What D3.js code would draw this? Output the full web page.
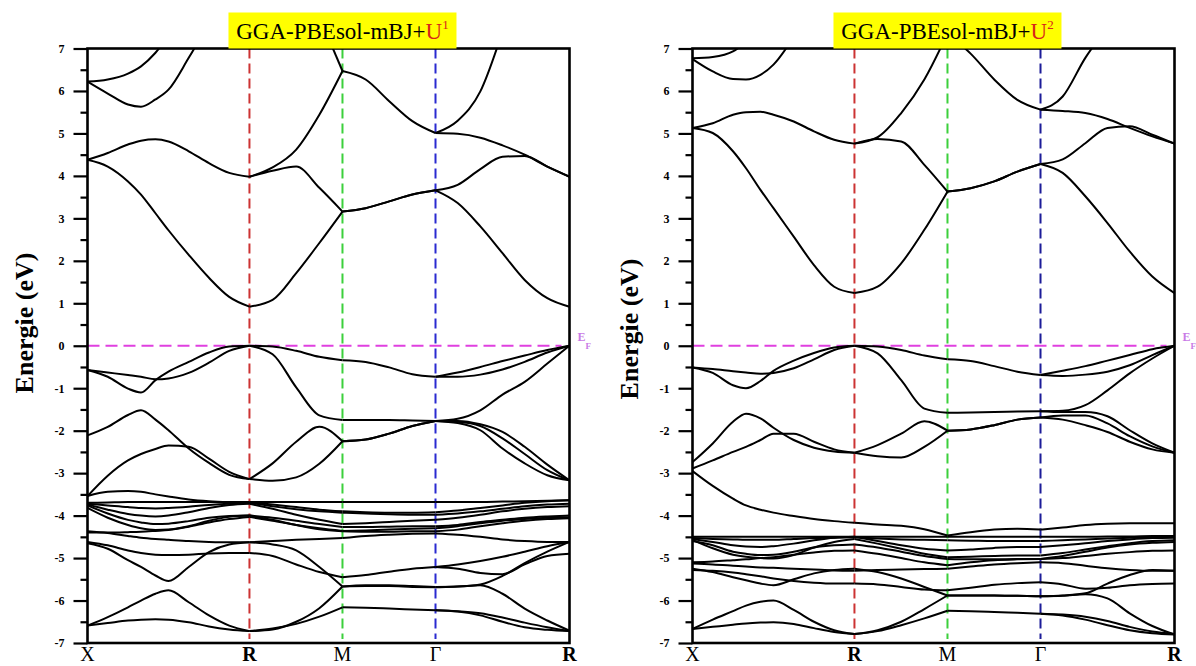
<!DOCTYPE html>
<html>
<head>
<meta charset="utf-8">
<script src="https://cdn.jsdelivr.net/npm/d3@7"></script>
<style>
  body { margin: 0; background: #fff; }
  svg { display: block; }
</style>
</head>
<body>
<svg id="chart" width="1196" height="666"></svg>
<script>
// ---- k-path (fraction of the total path length) ----
const kTicks  = [0, 0.336, 0.529, 0.722, 1];
const kLabels = ["X", "R", "M", "Γ", "R"];
// sampling points along X-R (10), R-M (4), M-Γ (4), Γ-R (6)
const kGrid = [0, 0.042, 0.084, 0.111, 0.141, 0.168, 0.210, 0.252, 0.294, 0.336,
               0.384, 0.433, 0.481, 0.529,
               0.577, 0.626, 0.674, 0.722,
               0.768, 0.815, 0.861, 0.907, 0.954, 1];
const energyTicks = [-7, -6, -5, -4, -3, -2, -1, 0, 1, 2, 3, 4, 5, 6, 7];
const energyMinor = [-6.5, -5.5, -4.5, -3.5, -2.5, -1.5, -0.5, 0.5, 1.5, 2.5, 3.5, 4.5, 5.5, 6.5];
const N = null;

// ---- GGA-PBEsol-mBJ+U1 ----
const condU1 = [
  [4.38, 4.22, 3.87, 3.56, 3.12, 2.72, 2.14, 1.60, 1.15, 0.92, 1.08, 1.71, 2.42, 3.16, 3.24, 3.40, 3.56, 3.66, 3.36, 2.81, 2.18, 1.55, 1.12, 0.92],
  [4.38, 4.54, 4.74, 4.83, 4.86, 4.81, 4.58, 4.30, 4.07, 3.98, 4.12, 4.22, 3.72, 3.16, 3.24, 3.40, 3.56, 3.66, 3.79, 4.16, 4.45, 4.47, 4.22, 3.98],
  [N, N, N, N, N, N, N, N, N, 3.98, 4.20, 4.62, 5.44, 6.47, 6.27, 5.76, 5.29, 5.01, 4.99, 4.90, 4.72, 4.50, 4.22, 3.98],
  [6.22, 5.94, 5.68, 5.63, 5.80, 6.03, 6.78, 7.60, N, N, N, N, N, N, N, N, N, N, N, N, N, N, N, N],
  [6.22, 6.27, 6.41, 6.58, 6.90, 7.30, N, N, N, N, N, N, N, N, N, N, N, N, N, N, N, N, N, N],
  [N, N, N, N, N, N, N, N, N, N, N, N, 7.75, 6.47, N, N, N, N, N, N, N, N, N, N],
  [N, N, N, N, N, N, N, N, N, N, N, N, N, N, N, N, N, 5.01, 5.30, 5.99, 7.40, N, N, N]
];
const valU1 = [
  [-0.57, -0.63, -0.69, -0.73, -0.79, -0.77, -0.64, -0.40, -0.12, 0.00, -0.02, -0.12, -0.26, -0.34, -0.38, -0.51, -0.67, -0.73, -0.63, -0.50, -0.36, -0.23, -0.10, 0.00],
  [-0.57, -0.73, -1.01, -1.10, -0.81, -0.61, -0.38, -0.16, -0.02, 0.00, -0.20, -0.98, -1.64, -1.75, -1.75, -1.75, -1.76, -1.77, -1.72, -1.52, -1.15, -0.85, -0.42, 0.00],
  [-2.11, -1.91, -1.63, -1.52, -1.74, -1.99, -2.42, -2.76, -3.04, -3.14, -2.77, -2.26, -1.91, -2.25, -2.21, -2.07, -1.89, -1.77, -1.77, -1.85, -2.03, -2.38, -2.80, -3.17],
  [-3.54, -3.06, -2.70, -2.55, -2.43, -2.35, -2.38, -2.66, -2.97, -3.14, -3.18, -3.10, -2.78, -2.25, -2.21, -2.07, -1.89, -1.77, -1.79, -1.89, -2.18, -2.55, -2.93, -3.17],
  [N, N, N, N, N, N, N, N, N, N, N, N, N, N, N, N, N, -0.73, -0.73, -0.68, -0.56, -0.38, -0.16, 0.00],
  [N, N, N, N, N, N, N, N, N, N, N, N, N, N, N, N, N, -1.77, -1.82, -1.99, -2.42, -2.77, -3.05, -3.17]
];
const coreU1 = [
  [-3.70, -3.69, -3.68, -3.68, -3.68, -3.68, -3.68, -3.68, -3.68, -3.68, -3.68, -3.68, -3.68, -3.68, -3.68, -3.68, -3.68, -3.68, -3.68, -3.68, -3.67, -3.66, -3.65, -3.64],
  [-3.54, -3.44, -3.42, -3.44, -3.50, -3.55, -3.62, -3.66, -3.68, -3.69, -3.74, -3.80, -3.86, -3.90, -3.92, -3.93, -3.93, -3.92, -3.88, -3.82, -3.76, -3.70, -3.66, -3.64],
  [-3.72, -3.76, -3.80, -3.82, -3.83, -3.82, -3.79, -3.75, -3.72, -3.70, -3.78, -3.85, -3.90, -3.93, -3.95, -3.97, -3.98, -3.98, -3.95, -3.90, -3.84, -3.78, -3.74, -3.72],
  [-3.74, -3.86, -3.96, -4.00, -4.02, -4.00, -3.92, -3.82, -3.75, -3.72, -3.84, -3.98, -4.10, -4.20, -4.18, -4.15, -4.12, -4.10, -4.05, -3.98, -3.90, -3.84, -3.80, -3.78],
  [-3.76, -3.95, -4.10, -4.16, -4.20, -4.19, -4.13, -4.05, -4.01, -4.00, -4.05, -4.12, -4.20, -4.27, -4.27, -4.26, -4.25, -4.25, -4.22, -4.15, -4.10, -4.05, -4.02, -4.00],
  [-3.82, -4.05, -4.22, -4.30, -4.34, -4.33, -4.25, -4.12, -4.03, -4.00, -4.10, -4.22, -4.32, -4.37, -4.38, -4.38, -4.37, -4.37, -4.33, -4.25, -4.18, -4.12, -4.08, -4.06],
  [-4.37, -4.41, -4.48, -4.52, -4.55, -4.57, -4.60, -4.62, -4.63, -4.63, -4.60, -4.57, -4.55, -4.53, -4.48, -4.45, -4.43, -4.42, -4.45, -4.50, -4.56, -4.60, -4.62, -4.62],
  [-4.40, -4.40, -4.39, -4.38, -4.36, -4.34, -4.26, -4.16, -4.08, -4.03, -4.12, -4.22, -4.30, -4.36, -4.35, -4.33, -4.31, -4.30, -4.25, -4.18, -4.12, -4.08, -4.05, -4.04],
  [-4.62, -4.70, -4.82, -4.88, -4.92, -4.93, -4.92, -4.89, -4.88, -4.88, -4.95, -5.15, -5.33, -5.45, -5.40, -5.32, -5.25, -5.21, -5.25, -5.35, -5.38, -5.15, -4.95, -4.90],
  [-4.65, -4.78, -5.05, -5.21, -5.41, -5.54, -5.21, -4.86, -4.68, -4.63, -4.68, -4.82, -5.21, -5.67, -5.66, -5.66, -5.68, -5.69, -5.67, -5.64, -5.84, -6.19, -6.47, -6.71],
  [N, N, N, N, N, N, N, N, N, N, N, N, N, N, N, N, N, -5.21, -5.15, -5.07, -4.97, -4.85, -4.72, -4.63]
];
const lowU1 = [
  [-6.59, -6.53, -6.47, -6.45, -6.44, -6.45, -6.51, -6.61, -6.68, -6.72, -6.66, -6.55, -6.38, -6.16, -6.17, -6.19, -6.21, -6.23, -6.25, -6.30, -6.40, -6.52, -6.63, -6.72],
  [-6.59, -6.39, -6.16, -6.00, -5.84, -5.76, -6.04, -6.35, -6.59, -6.72, -6.68, -6.50, -6.18, -5.67, -5.64, -5.64, -5.66, -5.68, -5.67, -5.62, -5.42, -5.12, -4.85, -4.62],
  [N, N, N, N, N, N, N, N, N, N, N, N, N, N, N, N, N, -6.23, -6.26, -6.35, -6.50, -6.63, -6.69, -6.72]
];

// ---- GGA-PBEsol-mBJ+U2 ----
const condU2 = [
  [5.13, 5.01, 4.58, 4.18, 3.67, 3.24, 2.57, 1.90, 1.39, 1.24, 1.39, 1.94, 2.73, 3.63, 3.71, 3.87, 4.10, 4.28, 4.07, 3.52, 2.89, 2.22, 1.63, 1.24],
  [5.13, 5.24, 5.44, 5.50, 5.51, 5.44, 5.28, 5.05, 4.85, 4.76, 4.87, 4.81, 4.26, 3.63, 3.71, 3.87, 4.10, 4.28, 4.39, 4.77, 5.13, 5.17, 4.97, 4.76],
  [N, N, N, N, N, N, N, N, N, 4.76, 4.91, 5.48, 6.27, 7.35, 6.88, 6.27, 5.79, 5.56, 5.53, 5.48, 5.34, 5.13, 4.93, 4.76],
  [6.75, 6.46, 6.28, 6.27, 6.38, 6.62, 7.27, N, N, N, N, N, N, N, N, N, N, N, N, N, N, N, N, N],
  [6.77, 6.80, 6.93, 7.15, N, N, N, N, N, N, N, N, N, N, N, N, N, N, N, N, N, N, N, N],
  [N, N, N, N, N, N, N, N, N, N, N, N, N, N, N, N, N, 5.56, 5.87, 6.78, 7.50, N, N, N]
];
const valU2 = [
  [-0.51, -0.55, -0.60, -0.63, -0.66, -0.64, -0.53, -0.32, -0.10, 0.00, -0.02, -0.10, -0.23, -0.32, -0.36, -0.48, -0.61, -0.69, -0.59, -0.48, -0.35, -0.22, -0.08, 0.00],
  [-0.51, -0.64, -0.93, -1.00, -0.83, -0.59, -0.35, -0.17, -0.04, 0.00, -0.18, -0.81, -1.48, -1.58, -1.57, -1.56, -1.55, -1.54, -1.53, -1.40, -1.05, -0.65, -0.30, 0.00],
  [-2.74, -2.30, -1.79, -1.60, -1.71, -1.93, -2.22, -2.40, -2.49, -2.52, -2.34, -2.07, -1.78, -2.00, -1.97, -1.87, -1.74, -1.69, -1.74, -1.87, -2.03, -2.26, -2.44, -2.52],
  [-2.89, -2.70, -2.50, -2.38, -2.22, -2.07, -2.07, -2.26, -2.44, -2.52, -2.60, -2.63, -2.38, -2.00, -1.97, -1.87, -1.74, -1.69, -1.64, -1.64, -1.83, -2.13, -2.37, -2.52],
  [N, N, N, N, N, N, N, N, N, N, N, N, N, N, N, N, N, -0.69, -0.71, -0.68, -0.61, -0.46, -0.22, 0.00],
  [N, N, N, N, N, N, N, N, N, N, N, N, N, N, N, N, N, -1.54, -1.56, -1.56, -1.66, -1.99, -2.30, -2.52],
  [-2.95, -3.30, -3.60, -3.76, -3.86, -3.93, -4.01, -4.08, -4.13, -4.17, -4.21, -4.24, -4.32, -4.47, -4.39, -4.33, -4.31, -4.33, -4.28, -4.22, -4.19, -4.18, -4.18, -4.18]
];
const coreU2 = [
  [-4.50, -4.50, -4.50, -4.50, -4.50, -4.50, -4.50, -4.50, -4.50, -4.50, -4.50, -4.50, -4.50, -4.50, -4.50, -4.50, -4.50, -4.50, -4.50, -4.50, -4.49, -4.49, -4.48, -4.48],
  [-4.53, -4.55, -4.56, -4.57, -4.57, -4.57, -4.55, -4.53, -4.52, -4.51, -4.54, -4.56, -4.57, -4.58, -4.59, -4.60, -4.60, -4.60, -4.58, -4.56, -4.54, -4.52, -4.51, -4.50],
  [-4.55, -4.62, -4.70, -4.73, -4.74, -4.72, -4.66, -4.58, -4.52, -4.50, -4.60, -4.70, -4.78, -4.82, -4.80, -4.76, -4.74, -4.74, -4.70, -4.65, -4.60, -4.56, -4.53, -4.52],
  [-4.57, -4.77, -4.92, -4.97, -5.00, -5.01, -4.93, -4.75, -4.62, -4.55, -4.66, -4.78, -4.90, -4.98, -4.97, -4.95, -4.94, -4.94, -4.88, -4.80, -4.72, -4.65, -4.60, -4.58],
  [-4.60, -4.70, -4.85, -4.90, -4.93, -4.92, -4.85, -4.75, -4.70, -4.68, -4.75, -4.85, -4.95, -5.02, -5.03, -5.03, -5.02, -5.02, -4.95, -4.85, -4.75, -4.68, -4.64, -4.62],
  [-5.10, -5.08, -5.05, -5.03, -5.00, -4.98, -4.92, -4.87, -4.83, -4.82, -4.90, -5.00, -5.10, -5.17, -5.10, -5.05, -5.03, -5.02, -5.00, -4.95, -4.90, -4.86, -4.83, -4.82],
  [-5.13, -5.15, -5.18, -5.20, -5.22, -5.23, -5.25, -5.27, -5.29, -5.30, -5.28, -5.27, -5.26, -5.25, -5.20, -5.15, -5.12, -5.10, -5.12, -5.18, -5.24, -5.28, -5.30, -5.30],
  [-5.25, -5.33, -5.45, -5.52, -5.60, -5.64, -5.50, -5.36, -5.28, -5.25, -5.33, -5.48, -5.68, -5.88, -5.88, -5.88, -5.89, -5.90, -5.89, -5.85, -5.95, -6.30, -6.60, -6.80],
  [-5.28, -5.30, -5.34, -5.38, -5.43, -5.48, -5.54, -5.58, -5.60, -5.60, -5.62, -5.68, -5.74, -5.76, -5.70, -5.63, -5.59, -5.57, -5.62, -5.72, -5.70, -5.64, -5.61, -5.60]
];
const lowU2 = [
  [-6.67, -6.62, -6.57, -6.54, -6.52, -6.51, -6.55, -6.65, -6.74, -6.79, -6.72, -6.58, -6.42, -6.24, -6.25, -6.27, -6.29, -6.31, -6.33, -6.38, -6.48, -6.62, -6.73, -6.79],
  [-6.67, -6.45, -6.25, -6.12, -6.03, -6.00, -6.22, -6.50, -6.70, -6.79, -6.70, -6.50, -6.20, -5.88, -5.88, -5.88, -5.89, -5.90, -5.88, -5.83, -5.60, -5.40, -5.28, -5.30],
  [N, N, N, N, N, N, N, N, N, N, N, N, N, N, N, N, N, -6.31, -6.35, -6.45, -6.58, -6.70, -6.77, -6.80]
];

// index ranges of the four path segments inside kGrid
const segments = [[0, 9], [9, 13], [13, 17], [17, 23]];

const svg = d3.select("#chart");
const serif = "'Liberation Serif', 'Times New Roman', Times, serif";

function drawPanel(cfg) {
  const x = d3.scaleLinear().domain([0, 1]).range([cfg.x0, cfg.x0 + 482]);
  const y = d3.scaleLinear().domain([-7, 7]).range([643, 48.5]);
  const g = svg.append("g");
  const clipId = "clip-" + cfg.id;

  g.append("clipPath").attr("id", clipId)
    .append("rect")
    .attr("x", x(0)).attr("y", y(7))
    .attr("width", x(1) - x(0)).attr("height", y(-7) - y(7));

  // high-symmetry guide lines
  const guideColors = [null, "#cc3333", "#3cd03c", cfg.blue, null];
  kTicks.forEach((k, i) => {
    if (!guideColors[i]) return;
    g.append("line")
      .attr("x1", x(k)).attr("x2", x(k))
      .attr("y1", y(7)).attr("y2", y(-7) - 4)
      .attr("stroke", guideColors[i]).attr("stroke-width", 2)
      .attr("stroke-dasharray", "10,5");
  });

  // Fermi level
  g.append("line")
    .attr("x1", x(0)).attr("x2", x(1) - 8)
    .attr("y1", y(0)).attr("y2", y(0))
    .attr("stroke", "#e040e0").attr("stroke-width", 2)
    .attr("stroke-dasharray", "12,6");

  // bands
  const line = d3.line()
    .defined(d => d[1] !== null)
    .x(d => x(d[0])).y(d => y(d[1]))
    .curve(d3.curveMonotoneX);
  const bandLayer = g.append("g").attr("clip-path", `url(#${clipId})`);
  cfg.bands.forEach(band => {
    segments.forEach(([a, b]) => {
      const pts = [];
      for (let i = a; i <= b; i++) pts.push([kGrid[i], band[i]]);
      if (pts.filter(p => p[1] !== null).length < 2) return;
      bandLayer.append("path")
        .attr("d", line(pts))
        .attr("fill", "none").attr("stroke", "#000")
        .attr("stroke-width", 2).attr("stroke-linejoin", "round");
    });
  });

  // energy axis
  const major = d3.axisLeft(y).tickValues(energyTicks).tickSize(14).tickPadding(9)
    .tickFormat(d => String(d));
  const minor = d3.axisLeft(y).tickValues(energyMinor).tickSize(7).tickFormat("");
  const ga = g.append("g").attr("transform", `translate(${x(0)},0)`).call(major);
  const gm = g.append("g").attr("transform", `translate(${x(0)},0)`).call(minor);
  [ga, gm].forEach(s => {
    s.select(".domain").remove();
    s.selectAll(".tick line").attr("stroke", "#000").attr("stroke-width", 2.2);
  });
  ga.selectAll(".tick text")
    .attr("font-family", serif).attr("font-size", 12).attr("font-weight", "bold")
    .attr("fill", "#000");

  // frame
  g.append("rect")
    .attr("x", x(0)).attr("y", y(7))
    .attr("width", x(1) - x(0)).attr("height", y(-7) - y(7))
    .attr("fill", "none").attr("stroke", "#000").attr("stroke-width", 2.6);

  // k labels
  kTicks.forEach((k, i) => {
    g.append("text")
      .attr("x", x(k)).attr("y", 661)
      .attr("text-anchor", "middle")
      .attr("font-family", serif).attr("font-size", 20)
      .attr("font-weight", kLabels[i] === "R" ? "bold" : "normal")
      .text(kLabels[i]);
  });

  // E_F marker
  const ef = g.append("text")
    .attr("x", x(1) + 8).attr("y", y(0) - 5)
    .attr("font-family", serif).attr("font-size", 12).attr("font-weight", "bold")
    .attr("fill", "#c97ae6");
  ef.append("tspan").text("E");
  ef.append("tspan").attr("dy", 8).attr("font-size", 9).text("F");

  // energy title
  g.append("text")
    .attr("transform", `translate(${x(0) - 55},${cfg.labelY}) rotate(-90)`)
    .attr("text-anchor", "middle")
    .attr("font-family", serif).attr("font-size", 26).attr("font-weight", "bold")
    .text("Energie (eV)");

  // panel title on a yellow band centred over M
  const cx = x(kTicks[2]);
  g.append("rect")
    .attr("x", cx - 114).attr("y", 12.5)
    .attr("width", 228).attr("height", 36)
    .attr("fill", "#ffff00");
  const t = g.append("text")
    .attr("x", cx).attr("y", 39)
    .attr("text-anchor", "middle")
    .attr("font-family", serif).attr("font-size", 23);
  t.append("tspan").attr("fill", "#000").text("GGA-PBEsol-mBJ+");
  t.append("tspan").attr("fill", "#d8261a").text("U");
  t.append("tspan").attr("fill", "#d8261a").attr("font-size", 13).attr("dy", -10).text(cfg.sup);
}

drawPanel({
  id: "u1", x0: 87.5, sup: "1", blue: "#2a2ad0", labelY: 323,
  bands: [].concat(condU1, valU1, coreU1, lowU1)
});
drawPanel({
  id: "u2", x0: 692.5, sup: "2", blue: "#1c1c99", labelY: 329,
  bands: [].concat(condU2, valU2, coreU2, lowU2)
});
</script>
</body>
</html>
